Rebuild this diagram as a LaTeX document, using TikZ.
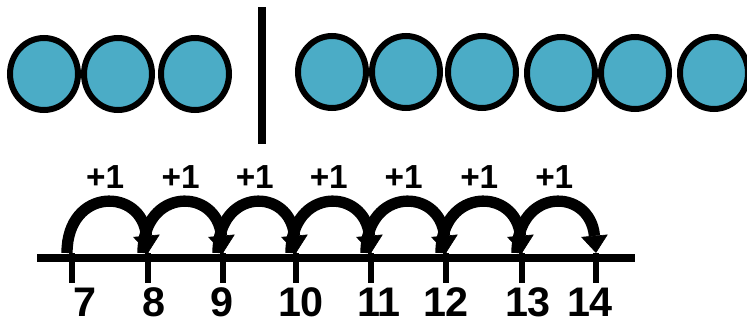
\documentclass[tikz,border=0pt]{standalone}
\usepackage{fontspec}
\setmainfont{Liberation Sans}
\usepackage{tikz}
\usetikzlibrary{arrows.meta,shapes.geometric}

\definecolor{bead}{HTML}{4BACC6}

\begin{document}
\begin{tikzpicture}[x=0.75pt,y=-0.75pt]

\tikzset{
  counter/.style={ellipse, draw=black, fill=bead, line width=4.5pt,
                  minimum width=51pt, minimum height=54pt, inner sep=0pt},
  divider/.style={black, line width=6pt},
  numline/.style={black, line width=6pt},
  tickmark/.style={black, line width=4.5pt},
  jump/.style={black, line width=8.5pt,
                  -{Triangle[length=13pt, width=20pt, line width=0.5pt]}},
  steplabel/.style={font=\fontsize{25}{28}\selectfont\bfseries,
                  inner sep=0pt, above=7pt},
  numlabel/.style={font=\fontsize{31}{34}\selectfont\bfseries,
                  anchor=base, inner sep=0pt}
}

\useasboundingbox (0,0) rectangle (747,322);

% Counters, left group
\node[counter] (c1) at (44,74) {};
\node[counter] (c2) at (118,74) {};
\node[counter] (c3) at (195,74) {};

% Divider
\coordinate (dtop) at (262,7);
\coordinate (dbot) at (262,144);
\draw[divider] (dtop) -- (dbot);

% Counters, right group
\node[counter] (c4) at (332,72) {};
\node[counter] (c5) at (406,72) {};
\node[counter] (c6) at (482,72) {};
\node[counter] (c7) at (561,73) {};
\node[counter] (c8) at (635,73) {};
\node[counter] (c9) at (714,73) {};

% Number line
\coordinate (lstart) at (37,258);
\coordinate (lend) at (635,258);
\draw[numline] (lstart) -- (lend);

% Ticks
\coordinate (t7) at (72,253);
\coordinate (t8) at (148,253);
\coordinate (t9) at (223,253);
\coordinate (t10) at (296,253);
\coordinate (t11) at (371,253);
\coordinate (t12) at (446,253);
\coordinate (t13) at (522,253);
\coordinate (t14) at (596,253);
\draw[tickmark] (t7) -- ++(0,30);
\draw[tickmark] (t8) -- ++(0,30);
\draw[tickmark] (t9) -- ++(0,30);
\draw[tickmark] (t10) -- ++(0,30);
\draw[tickmark] (t11) -- ++(0,30);
\draw[tickmark] (t12) -- ++(0,30);
\draw[tickmark] (t13) -- ++(0,30);
\draw[tickmark] (t14) -- ++(0,30);

% Numbers
\node[numlabel] (n7) at (85,316) {7};
\node[numlabel] (n8) at (154,316) {8};
\node[numlabel] (n9) at (222,316) {9};
\node[numlabel] (n10) at (301,316) {10};
\node[numlabel] (n11) at (379,316) {11};
\node[numlabel] (n12) at (446,316) {12};
\node[numlabel] (n13) at (528,316) {13};
\node[numlabel] (n14) at (590,316) {14};

% Jumps
\draw[jump] ([xshift=-3.75pt]t7) .. controls +(0,-66) and +(-6,-66) .. (t8) node[steplabel, pos=0.5] (p1) {+1};
\draw[jump] ([xshift=-3.75pt]t8) .. controls +(0,-66) and +(-6,-66) .. (t9) node[steplabel, pos=0.5] (p2) {+1};
\draw[jump] ([xshift=-3.75pt]t9) .. controls +(0,-66) and +(-6,-66) .. (t10) node[steplabel, pos=0.5] (p3) {+1};
\draw[jump] ([xshift=-3.75pt]t10) .. controls +(0,-66) and +(-6,-66) .. (t11) node[steplabel, pos=0.5] (p4) {+1};
\draw[jump] ([xshift=-3.75pt]t11) .. controls +(0,-66) and +(-6,-66) .. (t12) node[steplabel, pos=0.5] (p5) {+1};
\draw[jump] ([xshift=-3.75pt]t12) .. controls +(0,-66) and +(-6,-66) .. (t13) node[steplabel, pos=0.5] (p6) {+1};
\draw[jump] ([xshift=-3.75pt]t13) .. controls +(0,-66) and +(-6,-66) .. (t14) node[steplabel, pos=0.5] (p7) {+1};

\end{tikzpicture}
\end{document}
